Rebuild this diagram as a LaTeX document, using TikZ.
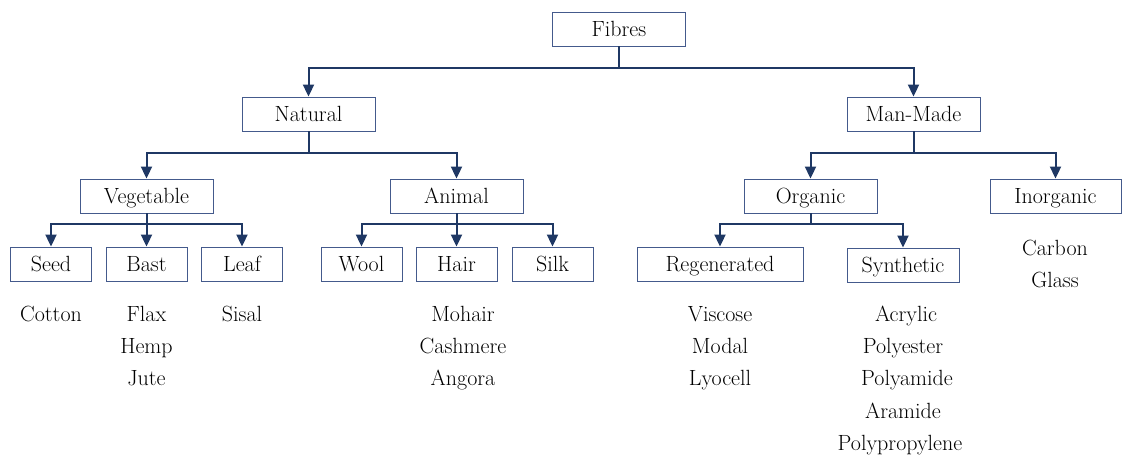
\documentclass[tikz,border=0pt]{standalone}
\usetikzlibrary{arrows.meta}
\definecolor{boxc}{RGB}{68,90,140}
\definecolor{linec}{RGB}{31,56,100}
\begin{document}
\begin{tikzpicture}[x=1pt,y=-1pt,
  txt/.style={font=\fontsize{22}{26}\selectfont,text height=18pt,text depth=3pt},
  box/.style={txt,draw=boxc,line width=0.9pt,minimum height=34pt,inner sep=0pt},
  wbox/.style={box,minimum width=133pt},
  sbox/.style={box,minimum width=81pt},
  conn/.style={draw=linec,line width=2pt,-{Triangle[width=11pt,length=12pt]}},
  lbl/.style={txt,inner sep=0pt}]
\useasboundingbox (0,0) rectangle (1122,456);
\node[wbox] (fib) at (619,29) {Fibres};
\node[wbox] (nat) at (308.5,114) {Natural};
\node[wbox] (man) at (913.5,114) {Man-Made};
\node[wbox] (veg) at (146.5,196) {Vegetable};
\node[wbox] (ani) at (456.5,196) {Animal};
\node[wbox] (org) at (810.5,196) {Organic};
\node[box,minimum width=131pt] (ino) at (1055.5,196) {Inorganic};
\node[sbox] (seed) at (51,264) {Seed};
\node[sbox] (bast) at (146.5,264) {Bast};
\node[sbox] (leaf) at (242,264) {Leaf};
\node[sbox] (wool) at (361.5,264) {Wool};
\node[sbox] (hair) at (456.5,264) {Hair};
\node[sbox] (silk) at (552.5,264) {Silk};
\node[box,minimum width=166pt] (reg) at (720,264) {Regenerated};
\node[box,minimum width=112pt] (syn) at (903,265) {Synthetic};
% connectors
\draw[conn] (fib.south) -- ++(0,22) -| (nat.north);
\draw[conn] (fib.south) -- ++(0,22) -| (man.north);
\draw[conn] (nat.south) -- ++(0,22) -| (veg.north);
\draw[conn] (nat.south) -- ++(0,22) -| (ani.north);
\draw[conn] (man.south) -- ++(0,22) -| (org.north);
\draw[conn] (man.south) -- ++(0,22) -| (ino.north);
\draw[conn] (veg.south) -- ++(0,11) -| (seed.north);
\draw[conn] (veg.south) -- ++(0,11) -| (bast.north);
\draw[conn] (veg.south) -- ++(0,11) -| (leaf.north);
\draw[conn] (ani.south) -- ++(0,11) -| (wool.north);
\draw[conn] (ani.south) -- ++(0,11) -| (hair.north);
\draw[conn] (ani.south) -- ++(0,11) -| (silk.north);
\draw[conn] (org.south) -- ++(0,11) -| (reg.north);
\draw[conn] (org.south) -- ++(0,11) -| (syn.north);
% lists
\node[lbl] (t1) at (51,314) {Cotton};
\node[lbl] (t2) at (146.5,314) {Flax};
\node[lbl] (t3) at (146.5,346) {Hemp};
\node[lbl] (t4) at (146.5,378) {Jute};
\node[lbl] (t5) at (242,314) {Sisal};
\node[lbl] (t6) at (463,314) {Mohair};
\node[lbl] (t7) at (463,346) {Cashmere};
\node[lbl] (t8) at (463,378) {Angora};
\node[lbl] (t9) at (720,314) {Viscose};
\node[lbl] (t10) at (720,346) {Modal};
\node[lbl] (t11) at (720,378) {Lyocell};
\node[lbl] (t12) at (906,314) {Acrylic};
\node[lbl] (t13) at (903,346) {Polyester};
\node[lbl] (t14) at (907,378) {Polyamide};
\node[lbl] (t15) at (903,411) {Aramide};
\node[lbl] (t16) at (900,443) {Polypropylene};
\node[lbl] (t17) at (1055,248) {Carbon};
\node[lbl] (t18) at (1055,280) {Glass};
\end{tikzpicture}
\end{document}
